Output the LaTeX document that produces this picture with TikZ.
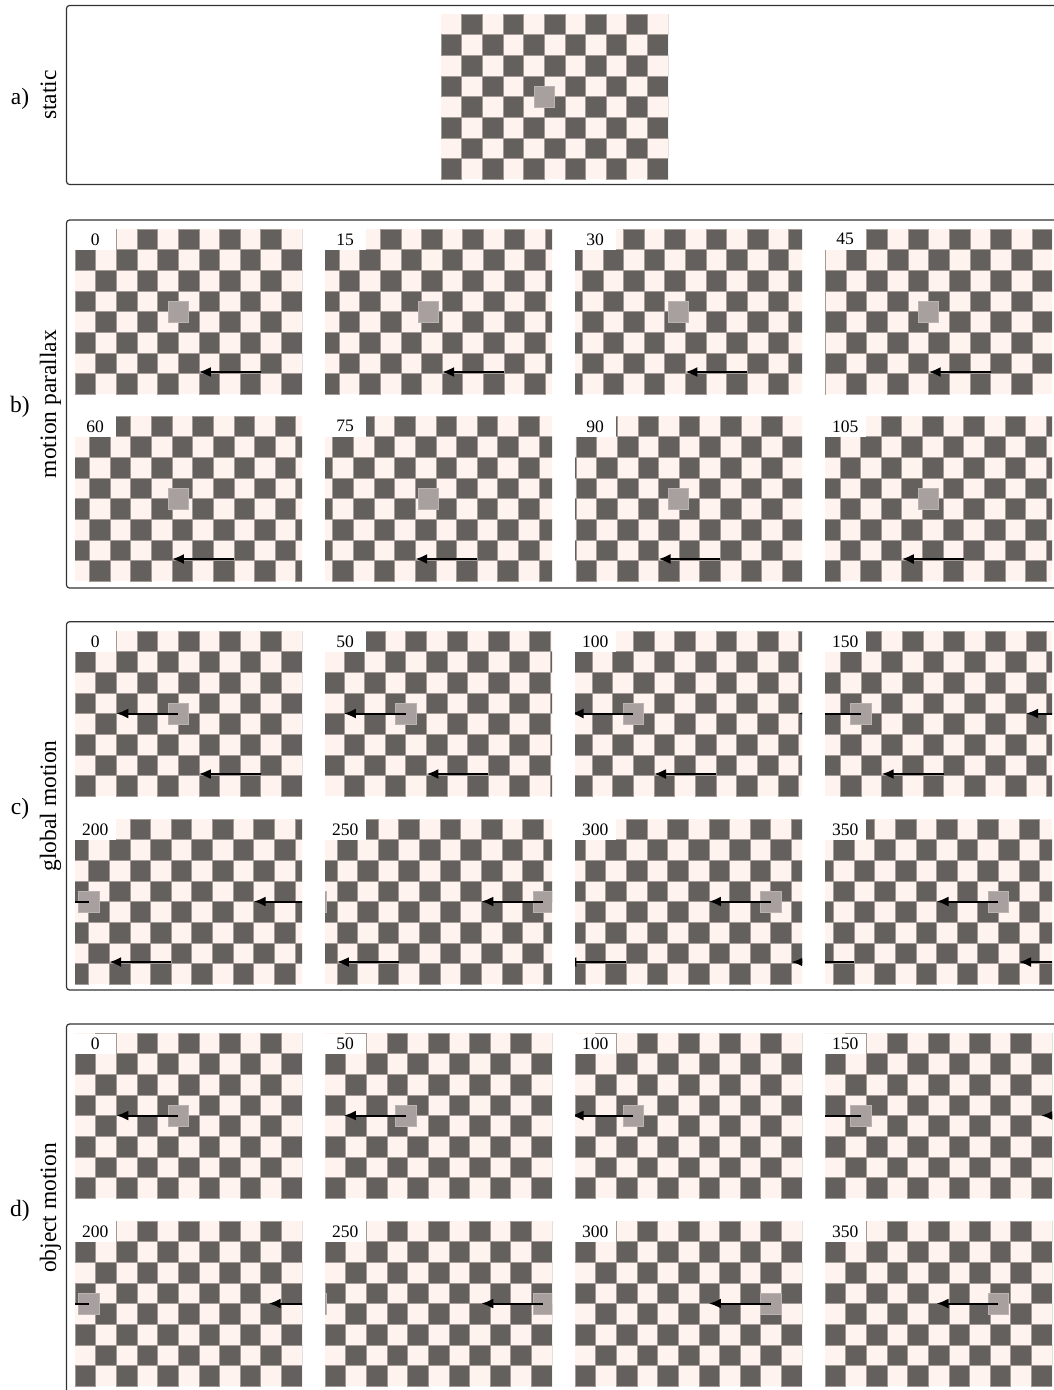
\documentclass[tikz,border=0pt]{standalone}
\usepackage{fontspec}
\setmainfont{Liberation Serif}
\usetikzlibrary{arrows.meta}
\definecolor{chkdark}{HTML}{64605D}
\definecolor{chklight}{HTML}{FFF3F0}
\definecolor{chkedge}{HTML}{A39995}
\definecolor{objcol}{HTML}{A8A09F}
\definecolor{objedge}{HTML}{BBB3B1}
\definecolor{boxline}{HTML}{333333}
\tikzset{
  panelbox/.style={draw=boxline, line width=1.2pt, rounded corners=3pt},
  motionarrow/.style={line width=2pt, -{Latex[length=12pt,width=10pt]}},
  darksq/.style={fill=chkdark, draw=chkedge, line width=0.6pt},
  objsq/.style={fill=objcol, draw=objedge, line width=0.6pt},
  framelabel/.style={font=\fontsize{17.5}{19}\selectfont, inner sep=0pt},
  sidelabel/.style={font=\fontsize{23.5}{26}\selectfont, inner sep=0pt},
}
\newcommand{\Wd}{227}
\newcommand{\Ht}{165}
\newcommand{\sqz}{20.636}
% #1 X, #2 Y, #3 bg shift, #4 obj shift, #5 bg arrow, #6 obj arrow, #7 label, #8 arrow period, #9 label box offset
\newcommand{\chkframe}[9]{%
 \begin{scope}
  \clip (#1,#2) rectangle ++(\Wd,\Ht);
  \fill[chklight] (#1,#2) rectangle ++(\Wd,\Ht);
  \pgfmathsetmacro\shv{#3}
  \pgfmathtruncatemacro\shm{floor(\shv/\sqz)}
  \pgfmathsetmacro\shf{\shv-\shm*\sqz}
  \foreach \cc in {0,...,11}{
    \foreach \rr in {0,...,7}{
      \pgfmathtruncatemacro\pty{mod(\cc+\shm+\rr,2)}
      \ifnum\pty=1
        \draw[darksq] ({#1+\cc*\sqz-\shf},{#2+\rr*\sqz}) rectangle ++(\sqz,\sqz);
      \fi
    }
  }
  \ifnum#5=1
    \pgfmathsetmacro\ba{mod(9*\sqz-\shv+2270,\Wd)}
    \draw[motionarrow] ({#1+\ba},{#2+143}) -- ++({-3*\sqz},0);
    \draw[motionarrow] ({#1+\ba+\Wd},{#2+143}) -- ++({-3*\sqz},0);
  \fi
  \pgfmathsetmacro\obs{#4}
  \pgfmathsetmacro\ox{mod(92.9-\obs+2270,\Wd)}
  \draw[objsq] ({#1+\ox},{#2+\Ht/2-\sqz/2}) rectangle ++(\sqz,\sqz);
  \draw[objsq] ({#1+\ox-\Wd},{#2+\Ht/2-\sqz/2}) rectangle ++(\sqz,\sqz);
  \ifnum#6=1
    \draw[motionarrow] ({#1+\ox+\sqz/2},{#2+\Ht/2}) -- ++({-3*\sqz},0);
    \draw[motionarrow] ({#1+\ox+\sqz/2+#8},{#2+\Ht/2}) -- ++({-3*\sqz},0);
  \fi
  \if\relax\detokenize{#7}\relax\else
    \fill[white] (#1,{#2+#9}) rectangle ({#1+2*\sqz},{#2+\sqz});
    \node[framelabel] at ({#1+\sqz-0.5},{#2+\sqz/2+#9/2}) {#7};
  \fi
 \end{scope}}
\begin{document}
\begin{tikzpicture}[x=1pt,y=-1pt]
\useasboundingbox (0,0) rectangle (1054,1390);
\clip (0,0) rectangle (1054,1390);
\fill[white] (0,0) rectangle (1054,1390);
% panel boxes
\draw[panelbox] (66.5,5.5) rectangle (1080,184.5);
\draw[panelbox] (66.5,220) rectangle (1080,588);
\draw[panelbox] (66.5,621.7) rectangle (1080,990);
\draw[panelbox] (66.5,1024) rectangle (1080,1394);
% side labels
\node[sidelabel] (la) at (20,99) {a)};
\node[sidelabel, rotate=90, anchor=base] (ta) at (56,95) {static};
\node[sidelabel] (lb) at (20,407) {b)};
\node[sidelabel, rotate=90, anchor=base] (tb) at (56,404) {motion parallax};
\node[sidelabel] (lc) at (20,809) {c)};
\node[sidelabel, rotate=90, anchor=base] (tc) at (56,806) {global motion};
\node[sidelabel] (ld) at (20,1211) {d)};
\node[sidelabel, rotate=90, anchor=base] (td) at (56,1208) {object motion};
% a) static
\chkframe{441}{14}{0}{0}{0}{0}{}{227}{0}
% b) motion parallax
\foreach \f [count=\i from 0] in {0,15,30,45}{
  \pgfmathsetmacro\xx{75+250*\i}
  \chkframe{\xx}{229}{0.448*\f}{0}{1}{0}{\f}{227}{0}
}
\foreach \f [count=\i from 0] in {60,75,90,105}{
  \pgfmathsetmacro\xx{75+250*\i}
  \chkframe{\xx}{416}{0.448*\f}{0}{1}{0}{\f}{227}{0}
}
% c) global motion
\foreach \f [count=\i from 0] in {0,50,100,150}{
  \pgfmathsetmacro\xx{75+250*\i}
  \chkframe{\xx}{631}{0.448*\f}{0.448*\f}{1}{1}{\f}{227}{0}
}
\foreach \f [count=\i from 0] in {200,250,300,350}{
  \pgfmathsetmacro\xx{75+250*\i}
  \chkframe{\xx}{819}{0.448*\f}{0.448*\f}{1}{1}{\f}{227}{0}
}
% d) object motion
\foreach \f [count=\i from 0] in {0,50,100,150}{
  \pgfmathsetmacro\xx{75+250*\i}
  \chkframe{\xx}{1033}{0}{0.448*\f}{0}{1}{\f}{242}{1}
}
\foreach \f [count=\i from 0] in {200,250,300,350}{
  \pgfmathsetmacro\xx{75+250*\i}
  \chkframe{\xx}{1221}{0}{0.448*\f}{0}{1}{\f}{242}{0}
}
\end{tikzpicture}
\end{document}
